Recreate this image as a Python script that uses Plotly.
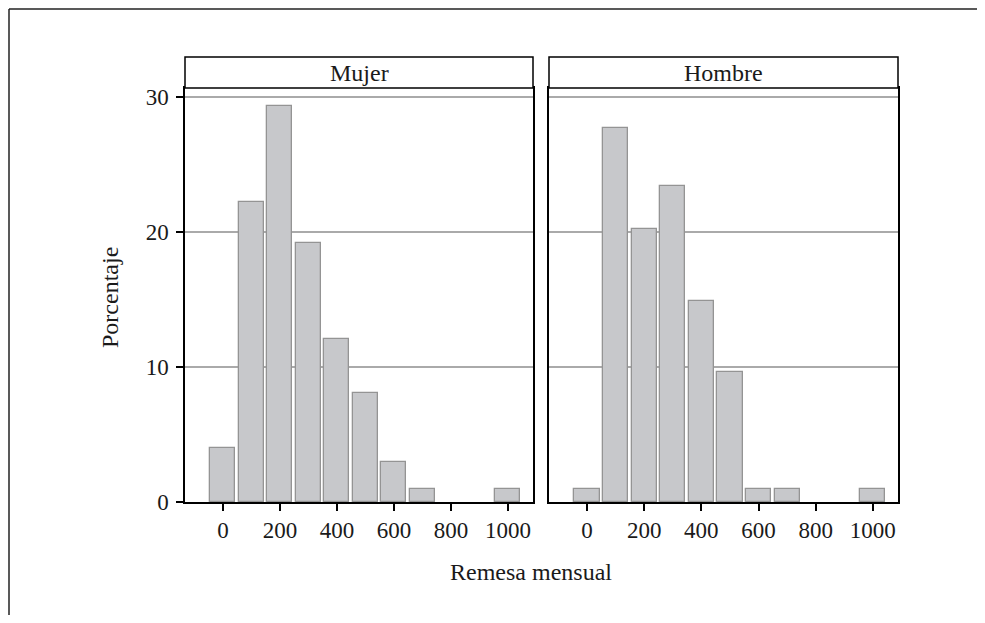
import plotly.graph_objects as go

bins = [0, 100, 200, 300, 400, 500, 600, 700, 800, 900, 1000]
mujer = [4.0, 22.2, 29.3, 19.2, 12.1, 8.1, 3.0, 1.0, 0, 0, 1.0]
hombre = [1.0, 27.7, 20.2, 23.4, 14.9, 9.6, 1.0, 1.0, 0, 0, 1.0]
panels = ["Mujer", "Hombre"]
xticks = [0, 200, 400, 600, 800, 1000]
yticks = [0, 10, 20, 30]

OFF = 8  # page body margin offset
W, H = 985 - 2 * OFF, 623 - 2 * OFF
ML, MT = 185 - OFF, 57 - OFF
PW, PH = 898 - 185, 502 - 57
MR = W - ML - PW
MB = H - MT - PH

def px(x):
    return (x - OFF - ML) / PW

def py(y):
    return (H - MB - (y - OFF)) / PH

FONT = "Liberation Serif"
fig = go.Figure()
for i, vals in enumerate([mujer, hombre]):
    fig.add_trace(go.Bar(
        x=bins, y=vals, width=88,
        marker=dict(color="#c7c8cb",
                    line=dict(color="#949494",
                              width=[1.3 if v > 0 else 0 for v in vals])),
        xaxis="x" if i == 0 else "x2", yaxis="y" if i == 0 else "y2",
        showlegend=False, hoverinfo="x+y"))

ytop = py(88)
d1 = [px(185), px(533)]
d2 = [px(549), px(898)]
axcommon = dict(showline=True, linecolor="black", linewidth=1.5, mirror=True,
                showgrid=False, zeroline=False, ticks="outside", ticklen=7,
                tickwidth=1.5, tickcolor="black", tickvals=xticks,
                range=[-133, 1088], tickfont=dict(family=FONT, size=23, color="#1a1a1a"))
ycommon = dict(showline=True, linecolor="black", linewidth=1.5, mirror=True,
               showgrid=True, gridcolor="#aaaaaa", gridwidth=1.5, zeroline=False,
               range=[0, 30.67], tickvals=yticks, domain=[0, ytop],
               tickfont=dict(family=FONT, size=23, color="#1a1a1a"))
fig.update_layout(
    width=W, height=H, margin=dict(l=ML, r=MR, t=MT, b=MB),
    paper_bgcolor="white", plot_bgcolor="white", bargap=0,
    xaxis=dict(domain=d1, anchor="y", **axcommon),
    xaxis2=dict(domain=d2, anchor="y2", **axcommon),
    yaxis=dict(anchor="x", ticks="outside", ticklen=7, tickwidth=1.5,
               tickcolor="black", ticklabelstandoff=3, **ycommon),
    yaxis2=dict(anchor="x2", ticks="", showticklabels=False, **ycommon),
)

shapes = []
annotations = []
for d, name in zip([d1, d2], panels):
    shapes.append(dict(type="rect", xref="paper", yref="paper",
                       x0=d[0], x1=d[1], y0=ytop, y1=py(57),
                       line=dict(color="black", width=1.5), fillcolor="white"))
    annotations.append(dict(text=name, xref="paper", yref="paper",
                            x=(d[0] + d[1]) / 2, y=(ytop + py(57)) / 2,
                            showarrow=False, xanchor="center", yanchor="middle",
                            font=dict(family=FONT, size=24, color="#1a1a1a")))
# outer frame (only top and left edges are visible in the view)
shapes.append(dict(type="line", xref="paper", yref="paper",
                   x0=px(9), x1=px(1100), y0=py(9), y1=py(9),
                   line=dict(color="#222", width=1.5)))
shapes.append(dict(type="line", xref="paper", yref="paper",
                   x0=px(9), x1=px(9), y0=py(9), y1=py(700),
                   line=dict(color="#222", width=1.5)))
annotations.append(dict(text="Porcentaje", xref="paper", yref="paper",
                        x=px(110), y=py(298), textangle=-90, showarrow=False,
                        xanchor="center", yanchor="middle",
                        font=dict(family=FONT, size=24, color="#1a1a1a")))
annotations.append(dict(text="Remesa mensual", xref="paper", yref="paper",
                        x=px(531), y=py(572), showarrow=False,
                        xanchor="center", yanchor="middle",
                        font=dict(family=FONT, size=24, color="#1a1a1a")))
fig.update_layout(shapes=shapes, annotations=annotations)
fig.write_html("out.html")
